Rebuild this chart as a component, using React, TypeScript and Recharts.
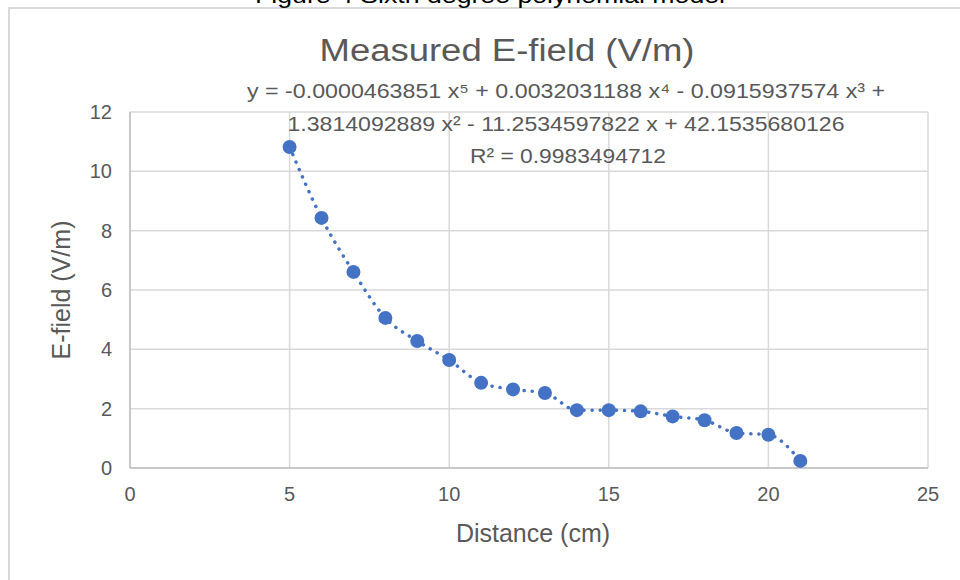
import { ComposedChart, Line, Scatter, XAxis, YAxis, CartesianGrid, Label } from "recharts"

const distances = [5, 6, 7, 8, 9, 10, 11, 12, 13, 14, 15, 16, 17, 18, 19, 20, 21]
const fields = [10.82, 8.43, 6.61, 5.06, 4.28, 3.64, 2.87, 2.65, 2.53, 1.95, 1.95, 1.91, 1.74, 1.61, 1.18, 1.12, 0.24]
const xTicks = [0, 5, 10, 15, 20, 25]
const yTicks = [0, 2, 4, 6, 8, 10, 12]

const caption = "Figure 4 Sixth degree polynomial model"
const title = "Measured E-field (V/m)"
const equation = [
  "y = -0.0000463851 x⁵ + 0.0032031188 x⁴ - 0.0915937574 x³ +",
  "1.3814092889 x² - 11.2534597822 x + 42.1535680126",
  "R² = 0.9983494712",
]

const data = distances.map((d, i) => ({ distance: d, field: fields[i] }))

const gray = "#595959"
const blue = "#4472C4"
const font = "'Liberation Sans', Arial, sans-serif"

export default function App() {
  return (
    <div style={{ position: "absolute", left: 0, top: 0, width: 960, height: 580, background: "#fff", fontFamily: font }}>
      <ComposedChart width={960} height={580} data={data} margin={{ top: 112, right: 32, left: 0, bottom: 0 }}>
        <CartesianGrid stroke="#d9d9d9" strokeWidth={1.5} />
        <XAxis
          type="number"
          dataKey="distance"
          domain={[0, 25]}
          ticks={xTicks}
          height={112}
          tickSize={0}
          tickMargin={19}
          stroke="#bfbfbf"
          strokeWidth={1.5}
          tick={{ fill: gray, fontSize: 20, fontFamily: font }}
        >
          <Label value="Distance (cm)" position="insideTop" offset={56} dx={4} fill={gray} fontSize={25} fontFamily={font} />
        </XAxis>
        <YAxis
          type="number"
          domain={[0, 12]}
          ticks={yTicks}
          width={130}
          tickSize={0}
          tickMargin={18}
          axisLine={false}
          tick={{ fill: gray, fontSize: 20, fontFamily: font }}
        >
          <Label value="E-field (V/m)" angle={-90} position="insideLeft" offset={61} fill={gray} fontSize={25} fontFamily={font} style={{ textAnchor: "middle" }} />
        </YAxis>
        <Line
          type="monotone"
          dataKey="field"
          stroke={blue}
          strokeWidth={3.5}
          strokeDasharray="0.1 8"
          strokeLinecap="round"
          dot={false}
          activeDot={false}
          isAnimationActive={false}
        />
        <Scatter dataKey="field" fill={blue} shape={(p: any) => <circle cx={p.cx} cy={p.cy} r={7} fill={blue} />} isAnimationActive={false} />
      </ComposedChart>
      <svg width={960} height={580} style={{ position: "absolute", left: 0, top: 0, pointerEvents: "none" }}>
        <line x1={130} y1={112} x2={130} y2={468} stroke="#bfbfbf" strokeWidth={1.5} />
        <rect x={9} y={8} width={1000} height={600} fill="none" stroke="#d9d9d9" strokeWidth={2} />
        <text x={490} y={3} textAnchor="middle" fontSize={22} fill="#000" fontFamily={font} textLength={470} lengthAdjust="spacingAndGlyphs">
          {caption}
        </text>
        <text x={507} y={61} textAnchor="middle" fontSize={31} fill={gray} fontFamily={font} textLength={375} lengthAdjust="spacingAndGlyphs">
          {title}
        </text>
        <text x={566} y={98} textAnchor="middle" fontSize={20} fill={gray} fontFamily={font} textLength={638} lengthAdjust="spacingAndGlyphs">
          {equation[0]}
        </text>
        <text x={566} y={131} textAnchor="middle" fontSize={20} fill={gray} fontFamily={font} textLength={557} lengthAdjust="spacingAndGlyphs">
          {equation[1]}
        </text>
        <text x={568} y={163} textAnchor="middle" fontSize={20} fill={gray} fontFamily={font} textLength={196} lengthAdjust="spacingAndGlyphs">
          {equation[2]}
        </text>
      </svg>
    </div>
  )
}
